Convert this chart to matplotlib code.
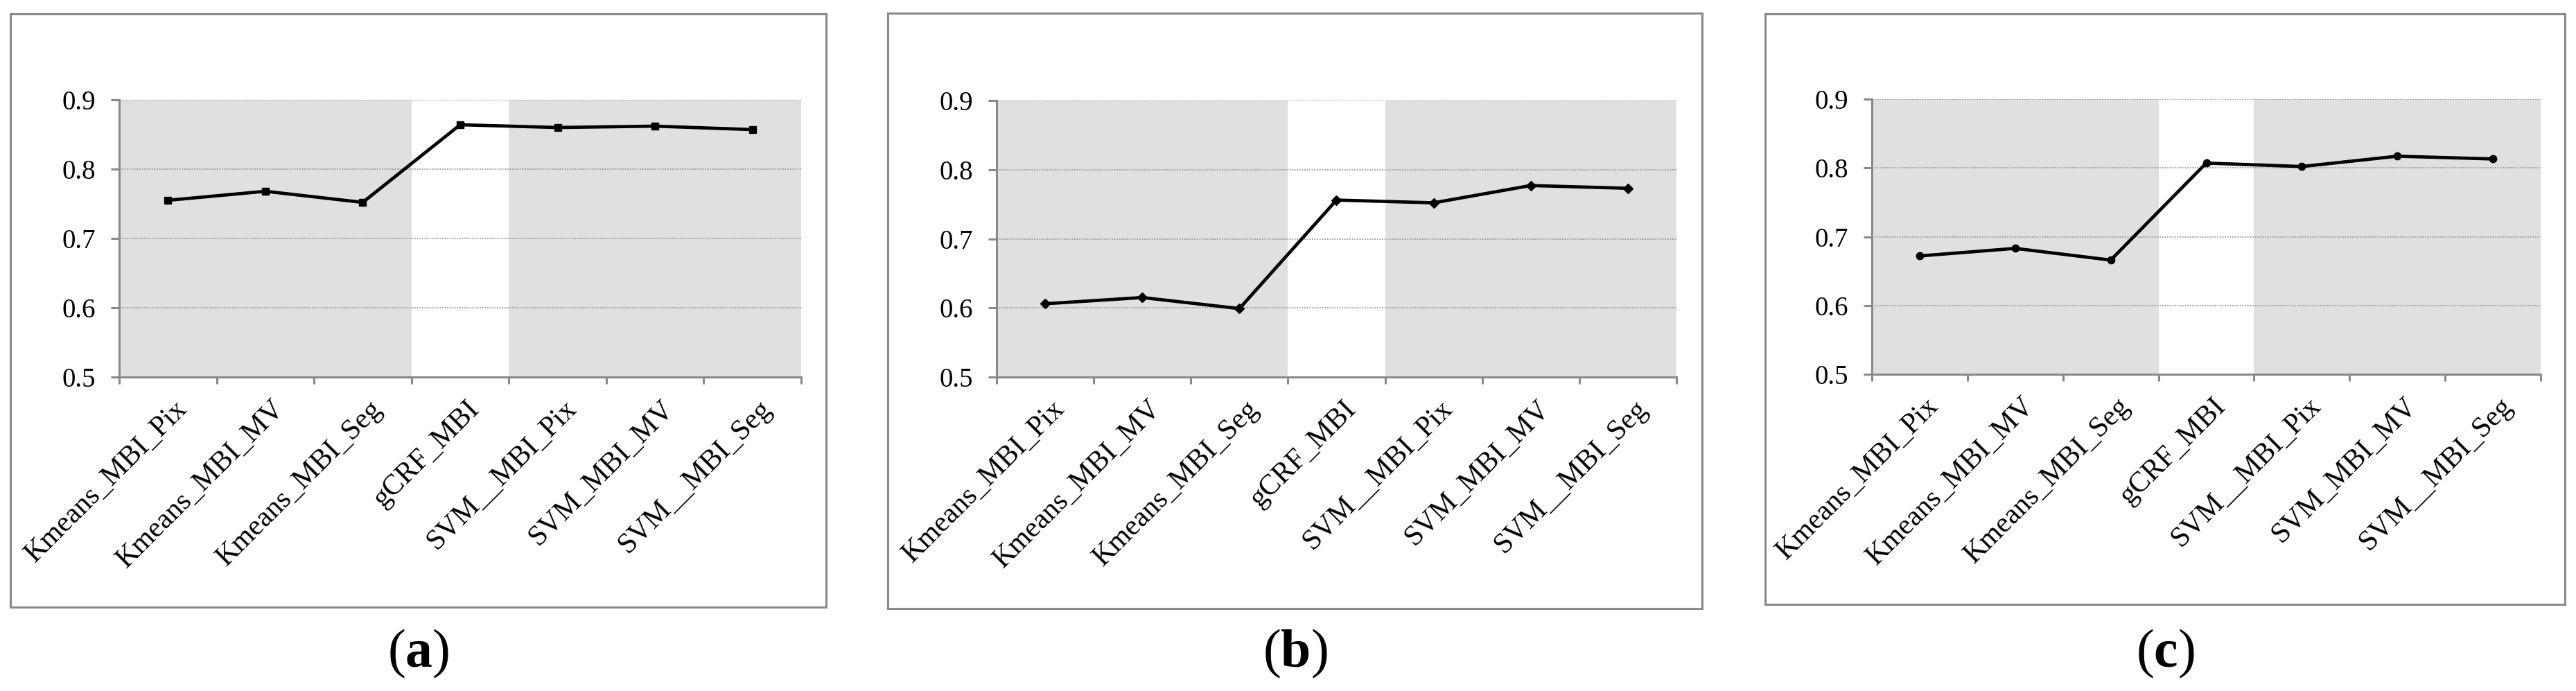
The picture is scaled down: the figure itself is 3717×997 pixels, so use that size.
import matplotlib
matplotlib.use("Agg")
import matplotlib.pyplot as plt
import matplotlib.transforms as mtransforms
from matplotlib.patches import Rectangle
import numpy as np

plt.rcParams['font.family'] = ['Liberation Serif', 'DejaVu Serif']
plt.rcParams['mathtext.fontset'] = 'custom'
plt.rcParams['mathtext.rm'] = 'Liberation Serif'
plt.rcParams['mathtext.bf'] = 'Liberation Serif:bold'

# data
categories = ['Kmeans_MBI_Pix', 'Kmeans_MBI_MV', 'Kmeans_MBI_Seg', 'gCRF_MBI',
              'SVM__MBI_Pix', 'SVM_MBI_MV', 'SVM__MBI_Seg']
acc_a = [0.755, 0.768, 0.752, 0.864, 0.860, 0.862, 0.857]
acc_b = [0.606, 0.615, 0.599, 0.756, 0.752, 0.777, 0.773]
acc_c = [0.672, 0.683, 0.666, 0.807, 0.802, 0.817, 0.813]
yticks = [0.5, 0.6, 0.7, 0.8, 0.9]
panel_labels = ['a', 'b', 'c']

W, H = 3717, 997
DPI = 100
fig = plt.figure(figsize=(W / DPI, H / DPI), dpi=DPI)

GRAY = '#898989'

# pixel layouts: axes (x0, y0, x1, y1), outer frame (x0, y0, x1, y1)
axes_px = [(172, 144, 1156, 544), (1438, 145, 2419, 544), (2701, 143, 3666, 540)]
frames_px = [(15, 20, 1192, 876), (1281, 19, 2456, 878), (2547, 20, 3701, 872)]
markers = ['s', 'D', 'o']
msizes = [7, 7, 7.5]


def px_rect(x0, y0, x1, y1):
    return [x0 / W, 1 - y1 / H, (x1 - x0) / W, (y1 - y0) / H]


for i, vals in enumerate([acc_a, acc_b, acc_c]):
    # outer frame around each chart
    fx0, fy0, fx1, fy1 = frames_px[i]
    fig.patches.append(Rectangle((fx0 / W, 1 - fy1 / H), (fx1 - fx0) / W, (fy1 - fy0) / H,
                                 transform=fig.transFigure, fill=False,
                                 edgecolor=GRAY, linewidth=2.2))

    ax = fig.add_axes(px_rect(*axes_px[i]))
    x = np.arange(len(categories))
    ax.set_xlim(-0.5, len(categories) - 0.5)
    ax.set_ylim(0.5, 0.9)

    # grey bands behind the kmeans and svm groups
    ax.axvspan(-0.5, 2.5, color='#e0e0e0', zorder=0, lw=0)
    ax.axvspan(3.5, 6.5, color='#e0e0e0', zorder=0, lw=0)

    for yv in yticks[1:]:
        ax.axhline(yv, color='#9a9a9a', lw=1.3, ls=(0, (1, 1)), zorder=1)

    ax.plot(x, vals, color='black', lw=3.4, marker=markers[i], ms=msizes[i],
            mfc='black', mec='black', zorder=3)

    for s in ['top', 'right']:
        ax.spines[s].set_visible(False)
    for s in ['left', 'bottom']:
        ax.spines[s].set_color(GRAY)
        ax.spines[s].set_linewidth(2.2)

    ax.set_yticks(yticks)
    ax.set_yticklabels(['%.1f' % v for v in yticks])
    ax.tick_params(axis='y', direction='out', length=8.6, width=2.2, color=GRAY,
                   pad=16, labelsize=28)

    # category labels at the centres, tick marks at the boundaries
    ax.set_xticks(x)
    ax.set_xticklabels(categories, rotation=45, ha='right', va='top',
                       rotation_mode='anchor', fontsize=30)
    ax.tick_params(axis='x', which='major', length=0, pad=19)
    ax.set_xticks(np.arange(-0.5, len(categories)), minor=True)
    ax.tick_params(axis='x', which='minor', direction='out', length=7.5, width=2.2,
                   color=GRAY)
    offset = mtransforms.ScaledTranslation(8 / DPI, 0, fig.dpi_scale_trans)
    for lab in ax.get_xticklabels():
        lab.set_transform(lab.get_transform() + offset)

    ax.set_facecolor('white')

    cx = (fx0 + fx1) / 2 / W
    fig.text(cx, 1 - 943 / H, r'($\mathbf{%s}$)' % panel_labels[i], ha='center',
             va='center', fontsize=56)

fig.savefig('out.png', dpi=DPI, facecolor='white')
